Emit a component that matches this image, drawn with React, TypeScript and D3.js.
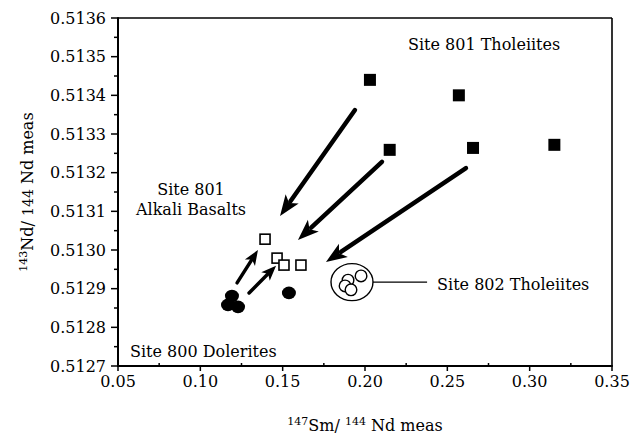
import React from 'react';
import * as d3 from 'd3';

const W = 640;
const H = 439;
const margin = { left: 118, right: 28, top: 18, bottom: 73 };

const xTickValues = [0.05, 0.1, 0.15, 0.2, 0.25, 0.3, 0.35];
const xMinorTicks = [0.075, 0.125, 0.175, 0.225, 0.275, 0.325];
const yTickValues = [0.5127, 0.5128, 0.5129, 0.513, 0.5131, 0.5132, 0.5133, 0.5134, 0.5135, 0.5136];
const yMinorTicks = [0.51275, 0.51285, 0.51295, 0.51305, 0.51315, 0.51325, 0.51335, 0.51345, 0.51355];

// Site 801 Tholeiites (filled squares)
const th801X = [0.203, 0.257, 0.215, 0.2656, 0.315];
const th801Y = [0.51344, 0.5134, 0.513259, 0.513264, 0.513272];
// Site 801 Alkali Basalts (open squares)
const alk801X = [0.1393, 0.1466, 0.1508, 0.1611];
const alk801Y = [0.513028, 0.512979, 0.512961, 0.512961];
// Site 800 Dolerites (filled circles)
const dol800X = [0.1192, 0.1168, 0.1229, 0.1538];
const dol800Y = [0.512881, 0.512858, 0.512853, 0.512889];
// Site 802 Tholeiites (open circles)
const th802X = [0.1976, 0.1897, 0.1879, 0.1915];
const th802Y = [0.512933, 0.512922, 0.512907, 0.512897];

// Arrows
const bigArrowFromX = [0.1939, 0.2103, 0.2613];
const bigArrowFromY = [0.513362, 0.513228, 0.513212];
const bigArrowToX = [0.1484, 0.1593, 0.1763];
const bigArrowToY = [0.513088, 0.513026, 0.512969];
const smallArrowFromX = [0.1223, 0.1296];
const smallArrowFromY = [0.512915, 0.512889];
const smallArrowToX = [0.135, 0.146];
const smallArrowToY = [0.513, 0.512959];

const ellipseCenter = [0.1921, 0.512917];
const leaderEndX = 0.2377;

const FONT = "'DejaVu Serif', serif";

function Arrow({ x1, y1, x2, y2, sw, hl, hw }: any) {
  const dx = x2 - x1, dy = y2 - y1;
  const len = Math.hypot(dx, dy);
  const ux = dx / len, uy = dy / len;
  const bx = x2 - ux * hl, by = y2 - uy * hl;
  const px = -uy, py = ux;
  const pts = [
    [x2, y2],
    [bx + px * hw, by + py * hw],
    [bx + ux * hl * 0.25, by + uy * hl * 0.25],
    [bx - px * hw, by - py * hw],
  ];
  return (
    <g>
      <line x1={x1} y1={y1} x2={bx + ux * 3} y2={by + uy * 3} stroke="#000" strokeWidth={sw} strokeLinecap="round" />
      <polygon points={pts.map((p) => p.join(',')).join(' ')} fill="#000" />
    </g>
  );
}

export default function App() {
  const x = d3.scaleLinear().domain([0.05, 0.35]).range([margin.left, W - margin.right]);
  const y = d3.scaleLinear().domain([0.5127, 0.5136]).range([H - margin.bottom, margin.top]);
  const x0 = x.range()[0], x1 = x.range()[1];
  const y0 = y.range()[0], y1 = y.range()[1];
  const ecx = x(ellipseCenter[0]);
  const ecy = y(ellipseCenter[1]);
  const erx = 21, ery = 18.5;

  return (
    <svg width={W} height={H} style={{ position: 'absolute', left: 0, top: 0, background: '#fff' }} fontFamily={FONT}>
      <rect x={0} y={0} width={W} height={H} fill="#fff" />
      {/* frame */}
      <line x1={x0} y1={y1} x2={x1} y2={y1} stroke="#000" strokeWidth={1.6} />
      <line x1={x1} y1={y1} x2={x1} y2={y0} stroke="#000" strokeWidth={1.6} />
      <line x1={x0} y1={y0} x2={x1 + 0.8} y2={y0} stroke="#000" strokeWidth={2} />
      <line x1={x0} y1={y0 + 1} x2={x0} y2={y1 - 0.8} stroke="#000" strokeWidth={2} />

      {/* y ticks */}
      {yTickValues.map((v) => (
        <g key={'yt' + v}>
          <line x1={x0 - 7} x2={x0} y1={y(v)} y2={y(v)} stroke="#000" strokeWidth={1.5} />
          <text x={x0 - 12} y={y(v)} dy="0.36em" textAnchor="end" fontSize={16}>
            {d3.format('.4f')(v)}
          </text>
        </g>
      ))}
      {yMinorTicks.map((v) => (
        <line key={'ym' + v} x1={x0 - 4} x2={x0} y1={y(v)} y2={y(v)} stroke="#000" strokeWidth={1.5} />
      ))}
      {/* x ticks */}
      {xTickValues.map((v) => (
        <g key={'xt' + v}>
          <line x1={x(v)} x2={x(v)} y1={y0} y2={y0 + 5} stroke="#000" strokeWidth={1.5} />
          <text x={x(v)} y={y0 + 21} textAnchor="middle" fontSize={16}>
            {d3.format('.2f')(v)}
          </text>
        </g>
      ))}
      {xMinorTicks.map((v) => (
        <line key={'xm' + v} x1={x(v)} x2={x(v)} y1={y0} y2={y0 - 3} stroke="#000" strokeWidth={1.5} />
      ))}

      {/* axis titles */}
      <text x={(x0 + x1) / 2} y={H - 8} textAnchor="middle" fontSize={16}>
        <tspan fontSize={11} dy={-6}>147</tspan>
        <tspan dy={6}>Sm/ </tspan>
        <tspan fontSize={11} dy={-6}>144</tspan>
        <tspan dy={6}> Nd meas</tspan>
      </text>
      <text transform={`translate(33,${(y0 + y1) / 2}) rotate(-90)`} textAnchor="middle" fontSize={16}>
        <tspan fontSize={11} dy={-6}>143</tspan>
        <tspan dy={6}>Nd/ </tspan>
        <tspan fontSize={14}>144</tspan>
        <tspan> Nd meas</tspan>
      </text>

      {/* arrows */}
      {bigArrowFromX.map((v, i) => (
        <Arrow key={'ba' + i} x1={x(v)} y1={y(bigArrowFromY[i])} x2={x(bigArrowToX[i])} y2={y(bigArrowToY[i])} sw={4.5} hl={21} hw={8} />
      ))}
      {smallArrowFromX.map((v, i) => (
        <Arrow key={'sa' + i} x1={x(v)} y1={y(smallArrowFromY[i])} x2={x(smallArrowToX[i])} y2={y(smallArrowToY[i])} sw={3.5} hl={15} hw={6} />
      ))}

      {/* Site 801 Tholeiites */}
      {th801X.map((v, i) => (
        <rect key={'t' + i} x={x(v) - 6} y={y(th801Y[i]) - 6} width={12} height={12} fill="#000" />
      ))}
      {/* Site 801 Alkali basalts */}
      {alk801X.map((v, i) => (
        <rect key={'a' + i} x={x(v) - 5} y={y(alk801Y[i]) - 5} width={10} height={10} fill="#fff" stroke="#000" strokeWidth={1.6} />
      ))}
      {/* Site 800 Dolerites */}
      {dol800X.map((v, i) => (
        <ellipse key={'d' + i} cx={x(v)} cy={y(dol800Y[i])} rx={7} ry={6.3} fill="#000" />
      ))}
      {/* Site 802 Tholeiites */}
      <ellipse cx={ecx} cy={ecy} rx={erx} ry={ery} fill="#fff" stroke="#000" strokeWidth={1.4} />
      {th802X.map((v, i) => (
        <circle key={'o' + i} cx={x(v)} cy={y(th802Y[i])} r={5.8} fill="#fff" stroke="#000" strokeWidth={1.4} />
      ))}
      <line x1={ecx + erx} x2={x(leaderEndX)} y1={ecy} y2={ecy} stroke="#000" strokeWidth={1.2} />

      {/* labels */}
      <text x={408} y={50} fontSize={16}>Site 801 Tholeiites</text>
      <text x={191} y={195} fontSize={16} textAnchor="middle">Site 801</text>
      <text x={191} y={215} fontSize={16} textAnchor="middle">Alkali Basalts</text>
      <text x={x(leaderEndX) + 10} y={290} fontSize={16}>Site 802 Tholeiites</text>
      <text x={130} y={357} fontSize={16}>Site 800 Dolerites</text>
    </svg>
  );
}
